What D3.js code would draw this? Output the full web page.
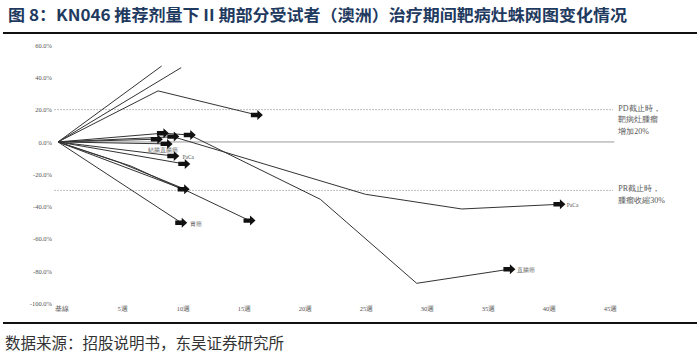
<!DOCTYPE html>
<html><head><meta charset="utf-8">
<script src="https://cdn.jsdelivr.net/npm/d3@7"></script>
<style>html,body{margin:0;padding:0;background:#fff;}svg{display:block;}</style>
</head><body>
<svg id="c" width="700" height="357"></svg>
<script>
// ---- data ----
const titleText = "图 8：KN046 推荐剂量下 II 期部分受试者（澳洲）治疗期间靶病灶蛛网图变化情况";
const sourceText = "数据来源：招股说明书，东吴证券研究所";
const xTickWeeks = [0, 5, 10, 15, 20, 25, 30, 35, 40, 45];
const xTickLabels = ["基線", "5週", "10週", "15週", "20週", "25週", "30週", "35週", "40週", "45週"];
const yTickValues = [60, 40, 20, 0, -20, -40, -60, -80, -100];
const yTickLabels = ["60.0%", "40.0%", "20.0%", "0.0%", "-20.0%", "-40.0%", "-60.0%", "-80.0%", "-100.0%"];
const thresholdValues = [20, -30];
const thresholdNotes = [["PD截止時，", "靶病灶腫瘤", "增加20%"], ["PR截止時，", "腫瘤收縮30%"]];

// each patient: weeks and % change in target lesion
const patientWeeks = [
  [0, 8.5],
  [0, 10.1],
  [0, 8.2, 16.3],
  [0, 8.6, 10.8, 21.5, 29.4, 37.0],
  [0, 9.45, 25.2, 33.1, 41.1],
  [0, 8.1],
  [0, 8.9],
  [0, 9.45],
  [0, 10.35],
  [0, 10.3, 15.7],
  [0, 5.0, 10.2],
  [0, 6.0, 10.3],
  [0, 10.1]
];
const patientValues = [
  [0, 47],
  [0, 46],
  [0, 31.6, 16.7],
  [0, 5.4, 4.3, -35.5, -87.5, -78.8],
  [0, 3.2, -32.4, -41.5, -38.6],
  [0, 1.7],
  [0, -1.2],
  [0, -8.7],
  [0, -13.6],
  [0, -29.3, -48.7],
  [0, -12.6, -28.6],
  [0, -15.0, -29.8],
  [0, -50.0]
];
// ongoing markers (arrows)
const arrowWeeks  = [16.3, 8.6, 10.8, 37.0, 9.45, 41.1, 8.1, 8.9, 9.45, 10.35, 10.3, 15.7, 10.1];
const arrowValues = [16.7, 5.4, 4.3, -78.8, 3.3, -38.6, 1.7, -1.2, -8.7, -13.6, -29.3, -48.7, -50.0];
// tumour type labels
const labelTexts  = ["結腸直腸癌", "PaCa", "胃癌", "直腸癌", "PaCa"];
const labelWeeks  = [7.4, 10.2, 10.8, 37.6, 41.7];
const labelValues = [-5.0, -9.3, -50.8, -79.2, -39.0];

// ---- drawing ----
const svg = d3.select("#c");
const x = d3.scaleLinear().domain([0, 45]).range([58, 607]);
const y = d3.scaleLinear().domain([-100, 60]).range([303.5, 45]);
const serif = "'Liberation Serif','DejaVu Serif',serif";
const cjk = "'Noto Sans CJK SC','Noto Sans CJK TC',sans-serif";

// title
svg.append("text").attr("x", 8).attr("y", 21)
  .attr("font-family", cjk).attr("font-weight", "bold").attr("font-size", 16)
  .attr("fill", "#1f3a5f").attr("textLength", 619).attr("lengthAdjust", "spacingAndGlyphs")
  .text(titleText);
svg.append("line").attr("x1", 3).attr("x2", 697).attr("y1", 33).attr("y2", 33)
  .attr("stroke", "#111").attr("stroke-width", 2);

// zero line
svg.append("line").attr("x1", x(0)).attr("x2", x(45.6)).attr("y1", y(0)).attr("y2", y(0))
  .attr("stroke", "#999").attr("stroke-width", 1);

// threshold dotted lines
thresholdValues.forEach((v, i) => {
  svg.append("line").attr("x1", x(-0.3)).attr("x2", x(45.5)).attr("y1", y(v)).attr("y2", y(v))
    .attr("stroke", "#aaa").attr("stroke-width", 1).attr("stroke-dasharray", "1.5,1.5");
  const t = svg.append("text").attr("font-family", serif).attr("font-size", 8).attr("fill", "#555");
  thresholdNotes[i].forEach((s, j) => {
    t.append("tspan").attr("x", x(45.6) + 4).attr("y", y(v) + 1 + j * 11.5).text(s);
  });
});

// y axis labels
const yAxis = d3.axisLeft(y).tickValues(yTickValues).tickSize(0).tickPadding(5)
  .tickFormat((d, i) => yTickLabels[i]);
const ga = svg.append("g").attr("transform", `translate(${x(0) - 1},0)`).call(yAxis);
ga.select(".domain").remove();
ga.selectAll("text").attr("font-family", serif).attr("font-size", 6.5).attr("fill", "#555");

// x axis labels
const xAxis = d3.axisBottom(x).tickValues(xTickWeeks).tickSize(0).tickPadding(0)
  .tickFormat((d, i) => xTickLabels[i]);
const gx = svg.append("g").attr("transform", `translate(3,${y(-100) + 3})`).call(xAxis);
gx.select(".domain").remove();
gx.selectAll("text").attr("font-family", serif).attr("font-size", 6.5).attr("fill", "#555");

// patient lines
const line = d3.line().x(d => x(d[0])).y(d => y(d[1]));
patientWeeks.forEach((ws, i) => {
  const pts = ws.map((w, j) => [w, patientValues[i][j]]);
  svg.append("path").attr("d", line(pts)).attr("fill", "none")
    .attr("stroke", "#333").attr("stroke-width", 1);
});

// arrows
const arrowPath = "M-6,-2.2 L0.5,-2.2 L0.5,-5 L6,0 L0.5,5 L0.5,2.2 L-6,2.2 Z";
arrowWeeks.forEach((w, i) => {
  svg.append("path").attr("d", arrowPath)
    .attr("transform", `translate(${x(w)},${y(arrowValues[i])})`)
    .attr("fill", "#111");
});

// labels
labelTexts.forEach((t, i) => {
  svg.append("text").attr("x", x(labelWeeks[i])).attr("y", y(labelValues[i]) + 2)
    .attr("font-family", serif).attr("font-size", 5.5).attr("fill", "#555").text(t);
});

// footer
svg.append("line").attr("x1", 3).attr("x2", 697).attr("y1", 323).attr("y2", 323)
  .attr("stroke", "#111").attr("stroke-width", 2);
svg.append("text").attr("x", 5).attr("y", 349)
  .attr("font-family", cjk).attr("font-size", 15.5).attr("fill", "#333")
  .text(sourceText);
</script>
</body></html>
